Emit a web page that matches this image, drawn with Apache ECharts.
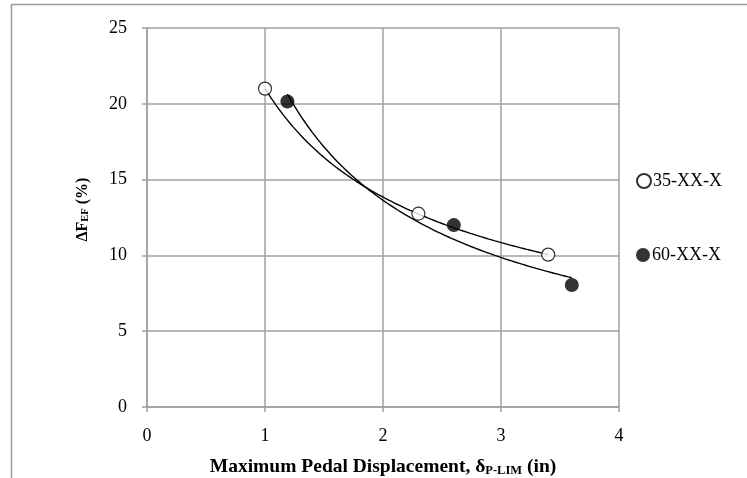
<!DOCTYPE html>
<html>
<head>
<meta charset="utf-8">
<script src="https://cdn.jsdelivr.net/npm/echarts@6/dist/echarts.min.js"></script>
<style>
  html, body { margin: 0; padding: 0; background: #fff; }
  #chart { width: 747px; height: 478px; }
</style>
</head>
<body>
<div id="chart"></div>
<script>
// Measured points: maximum pedal displacement (in) vs. change in force (%)
const seriesNames = ['35-XX-X', '60-XX-X'];
const disp35 = [1.0, 2.3, 3.4];
const dF35 = [21.0, 12.75, 10.05];
const disp60 = [1.19, 2.6, 3.6];
const dF60 = [20.15, 12.0, 8.05];
const xTicks = [0, 1, 2, 3, 4];
const yTicks = [0, 5, 10, 15, 20, 25];

// Power-law trendline y = a * x^b fitted by least squares in log space
function powerTrend(xs, ys, steps) {
  const lx = xs.map(Math.log), ly = ys.map(Math.log);
  const n = xs.length;
  const mx = lx.reduce((s, v) => s + v, 0) / n;
  const my = ly.reduce((s, v) => s + v, 0) / n;
  let sxy = 0, sxx = 0;
  for (let i = 0; i < n; i++) {
    sxy += (lx[i] - mx) * (ly[i] - my);
    sxx += (lx[i] - mx) * (lx[i] - mx);
  }
  const b = sxy / sxx;
  const a = Math.exp(my - b * mx);
  const x0 = Math.min(...xs), x1 = Math.max(...xs);
  const pts = [];
  for (let i = 0; i <= steps; i++) {
    const x = x0 + (x1 - x0) * i / steps;
    pts.push([x, a * Math.pow(x, b)]);
  }
  return pts;
}

const pairs = (xs, ys) => xs.map((x, i) => [x, ys[i]]);
const FONT = '"Liberation Serif", "Times New Roman", serif';
const GRAY = '#a0a0a0';

const chart = echarts.init(document.getElementById('chart'), null, { renderer: 'canvas' });

chart.setOption({
  animation: false,
  backgroundColor: '#fff',
  textStyle: { fontFamily: FONT, color: '#000' },
  graphic: [{
    type: 'rect',
    shape: { x: 11.5, y: 4.5, width: 800, height: 520 },
    style: { fill: 'none', stroke: '#9a9a9a', lineWidth: 1.5 },
    silent: true
  }],
  grid: { left: 147, right: 128, top: 28, bottom: 71, containLabel: false, outerBoundsMode: 'none' },
  legend: [
    {
      data: [seriesNames[0]], left: 636, top: 172, orient: 'vertical',
      itemWidth: 14, itemHeight: 14, itemGap: 0, padding: 0,
      textStyle: { fontFamily: FONT, fontSize: 18, color: '#000', padding: [0, 0, 0, -3] }
    },
    {
      data: [seriesNames[1]], left: 636, top: 246, orient: 'vertical',
      itemWidth: 14, itemHeight: 14, itemGap: 0, padding: 0,
      textStyle: { fontFamily: FONT, fontSize: 18, color: '#000', padding: [0, 0, 0, -3] }
    }
  ],
  xAxis: {
    type: 'value', min: xTicks[0], max: xTicks[xTicks.length - 1], interval: 1,
    axisLine: { show: true, lineStyle: { color: GRAY, width: 1.5 } },
    axisTick: { show: true, length: 5, lineStyle: { color: GRAY, width: 1.5 } },
    splitLine: { show: true, lineStyle: { color: GRAY, width: 1.5 } },
    axisLabel: { fontFamily: FONT, fontSize: 18, color: '#000', margin: 20 },
    name: '{m|Maximum Pedal Displacement, δ}{s|P-LIM}{m| (in)}',
    nameLocation: 'middle', nameGap: 50,
    nameTextStyle: {
      rich: {
        m: { fontFamily: FONT, fontSize: 19.5, fontWeight: 'bold', color: '#000' },
        s: { fontFamily: FONT, fontSize: 12.5, fontWeight: 'bold', color: '#000', padding: [7, 0, 0, 0] }
      }
    }
  },
  yAxis: {
    type: 'value', min: yTicks[0], max: yTicks[yTicks.length - 1], interval: 5,
    axisLine: { show: true, lineStyle: { color: GRAY, width: 1.5 } },
    axisTick: { show: true, length: 5, lineStyle: { color: GRAY, width: 1.5 } },
    splitLine: { show: true, lineStyle: { color: GRAY, width: 1.5 } },
    axisLabel: { fontFamily: FONT, fontSize: 18, color: '#000', margin: 20 },
    name: '{m|ΔF}{s|EF}{m| (%)}',
    nameLocation: 'middle', nameGap: 56, nameRotate: 90,
    nameTextStyle: {
      padding: [0, 0, 0, 16],
      rich: {
        m: { fontFamily: FONT, fontSize: 16, fontWeight: 'bold', color: '#000' },
        s: { fontFamily: FONT, fontSize: 10.5, fontWeight: 'bold', color: '#000', padding: [6, 0, 0, 0] }
      }
    }
  },
  series: [
    {
      name: seriesNames[0] + ' trend', type: 'line', data: powerTrend(disp35, dF35, 80),
      showSymbol: false, symbol: 'none', smooth: false, z: 2, silent: true,
      lineStyle: { color: '#000', width: 1.4 }
    },
    {
      name: seriesNames[1] + ' trend', type: 'line', data: powerTrend(disp60, dF60, 80),
      showSymbol: false, symbol: 'none', smooth: false, z: 2, silent: true,
      lineStyle: { color: '#000', width: 1.4 }
    },
    {
      name: seriesNames[0], type: 'scatter', data: pairs(disp35, dF35),
      symbol: 'circle', symbolSize: 13, z: 3,
      itemStyle: { color: '#fff', borderColor: '#000', borderWidth: 1.2 }
    },
    {
      name: seriesNames[1], type: 'scatter', data: pairs(disp60, dF60),
      symbol: 'circle', symbolSize: 14, z: 3,
      itemStyle: { color: '#000', borderColor: '#000', borderWidth: 0 }
    }
  ]
});
</script>
</body>
</html>
